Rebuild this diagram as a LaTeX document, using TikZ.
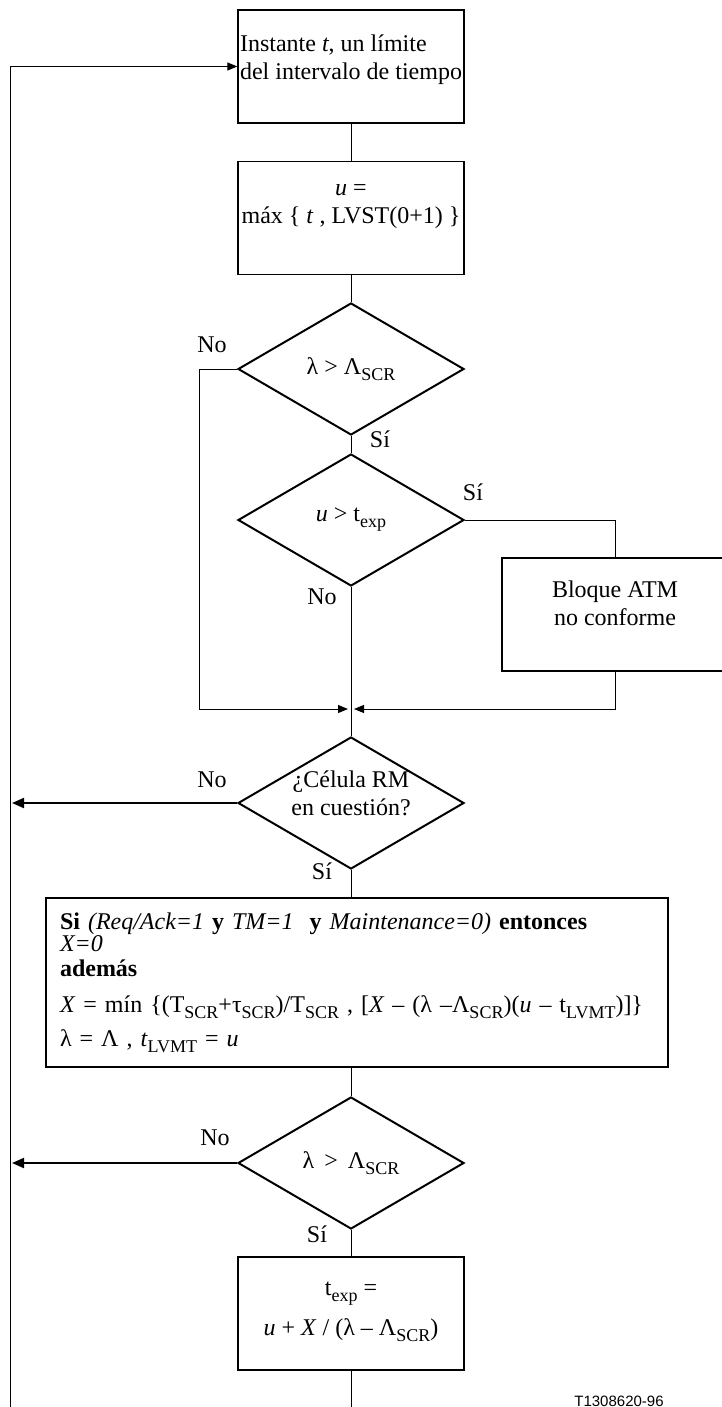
\documentclass[tikz,border=0pt]{standalone}
\usepackage{fontspec}
\setmainfont{Liberation Serif}
\newfontfamily\codefont{Liberation Sans}
\usetikzlibrary{shapes.geometric,arrows.meta}
\tikzset{
    RA1/.style ={rectangle,minimum width = 113pt, minimum height =56.5pt, draw, line width=0.65pt, inner sep=1pt, align=center},
    RA2/.style ={rectangle,minimum width = 311pt, minimum height =84.5pt, draw, line width=0.65pt, text width=297pt, inner xsep=7pt, align=left},
    DI1/.style ={diamond, aspect=1.7, minimum width = 113pt, minimum height = 66pt, draw, line width=1pt, inner sep=0pt, align=center},
    LN/.style ={line width=0.5pt},
    AR/.style ={->, line width=0.5pt},
    AR2/.style ={-{Triangle[length=6pt,width=5pt]}, line width=1pt}}
\newcommand\lo[1]{\raisebox{-3pt}{\fontsize{9}{10}\selectfont #1}}

\begin{document}
\begin{tikzpicture}[x=0.5pt,y=-0.5pt,font=\fontsize{12}{14}\selectfont,>={Triangle[length=5pt,width=4pt]}]
    \useasboundingbox (0,0) rectangle (722,1407);
    % cajas y rombos
    \node[RA1,align=left,text height=23pt,text depth=10.1pt] (b1) at(351,66.5){Instante \textit{t}, un límite\\del intervalo de tiempo};
    \node[RA1,text height=23pt,text depth=17.6pt] (b2) at(351,218){\textit{u} =\\máx \{ \textit{t} , LVST(0+1) \}}
        edge[LN] (b1);
    \node[DI1] (d1) at(351,369){λ > Λ\lo{SCR}}
        edge[LN] (b2);
    \node[DI1] (d2) at(351,520){\textit{u} > t\lo{exp}}
        edge[LN] (d1);
    \node[RA1,text height=23pt,text depth=12.1pt] (b3) at(615,614.5){Bloque ATM\\no conforme};
    \node[DI1,text height=17pt,text depth=4.6pt] (d3) at(351,803){¿Célula RM\\en cuestión?}
        edge[LN] (d2);
    \node[RA2] (b4) at(357,982.5){\textbf{Si} \textit{(Req/Ack=1} \textbf{y} \textit{TM=1}\ \ \textbf{y} \textit{Maintenance=0)} \textbf{entonces}\\[-3pt]
        \textit{X=0}\\[-1.5pt]
        \textbf{además}\\[4pt]
        \textit{X} = mín \{(T\lo{SCR}+τ\lo{SCR})/T\lo{SCR} , [\textit{X} – (λ –Λ\lo{SCR})(\textit{u} – t\lo{LVMT})]\}\\[3pt]
        λ = Λ , \textit{t}\lo{LVMT} = \textit{u}};
    \node[DI1] (d4) at(351,1163){λ \,>\, Λ\lo{SCR}};
    \node[RA1,text height=29pt,text depth=7.1pt] (b5) at(351,1313.5){t\lo{exp} =\\[6pt]\textit{u} + \textit{X} / (λ – Λ\lo{SCR})}
        edge[LN] (d4);
    \draw[LN] (d3.south) -- (d3.south |- b4.north);
    \draw[LN] (b4.south -| d4.north) -- (d4.north);
    % ramas y retorno
    \coordinate (m) at (351,709);
    \coordinate (c1) at (199,709);
    \coordinate (c2) at (615,709);
    \coordinate (c0) at (10,1407);
    \coordinate (c3) at (12,0);
    \coordinate (c9) at (351,1407);
    \draw[AR] (d1.west) -| (c1) -- ([xshift=-1.5pt]m);
    \draw[LN] (d2.east) -| (b3.north);
    \draw[AR] (b3.south) -- (c2) -- ([xshift=1.5pt]m);
    \draw[AR2] (d3.west) -- (d3.west -| c3);
    \draw[AR2] (d4.west) -- (d4.west -| c3);
    \draw[LN] (b5.south) -- (c9);
    \draw[AR] (c0) |- (b1.west);
    % etiquetas
    \node (l1) at(212,345){No};
    \node (l2) at(380,439){Sí};
    \node (l3) at(473,492){Sí};
    \node (l4) at(322,597){No};
    \node (l5) at(212,780){No};
    \node (l6) at(322,871){Sí};
    \node (l7) at(215,1138){No};
    \node (l8) at(317,1234){Sí};
    \node[font=\codefont\fontsize{7.5}{9}\selectfont] (ref) at(619,1401){T1308620-96};
\end{tikzpicture}
\end{document}
